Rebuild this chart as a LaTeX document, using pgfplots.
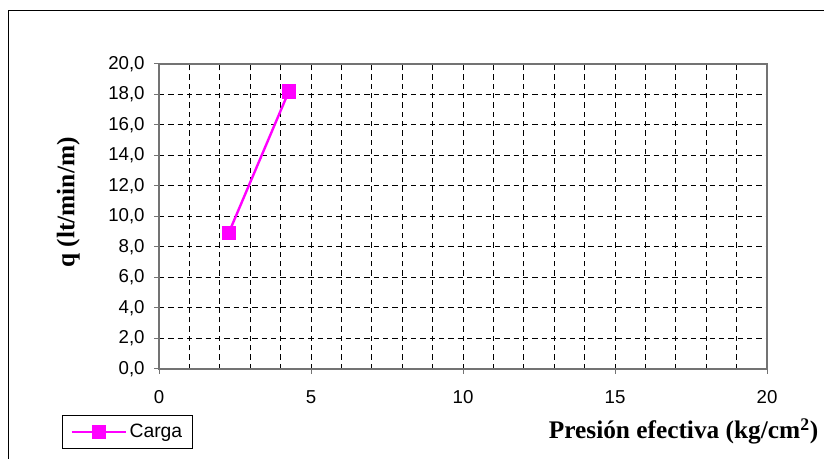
\documentclass[border=0pt]{standalone}
\usepackage{pgfplots}
\pgfplotsset{compat=1.18}
\usepackage{fontspec}
\setmainfont{Liberation Sans}
\newfontfamily\tnr{Liberation Serif}
\definecolor{mag}{RGB}{255,0,255}
\definecolor{axgray}{RGB}{115,115,115}

\begin{document}
\begin{tikzpicture}[x=0.75pt,y=0.75pt]
\path[use as bounding box] (0,0) rectangle (824,459);
\draw[line width=0.75pt,black] (8,0) -- (8,448) -- (824,448);
\begin{axis}[
  at={(119.25pt,67.5pt)}, anchor=south west, scale only axis,
  width=456pt, height=228.75pt,
  xmin=0, xmax=20, ymin=0, ymax=20,
  xtick={0,5,10,15,20},
  minor xtick={1,2,3,4,6,7,8,9,11,12,13,14,16,17,18,19},
  ytick={0,2,...,20},
  grid=both,
  major grid style={black, line width=0.75pt, dash pattern=on 4pt off 3pt},
  minor grid style={black, line width=0.75pt, dash pattern=on 4pt off 3pt},
  axis line style={axgray, line width=1.5pt},
  tick pos=left, tick align=outside,
  major tick length=3.75pt, minor tick length=0pt,
  every tick/.style={axgray, line width=0.75pt},
  /pgf/number format/assume math mode=true,
  ticklabel style={font=\fontsize{14}{17}\selectfont},
  yticklabel style={/pgf/number format/fixed, /pgf/number format/fixed zerofill, /pgf/number format/precision=1, /pgf/number format/use comma, xshift=-3.5pt},
  xticklabel style={yshift=-9pt},
  xlabel={Presión efectiva (kg/cm\textsuperscript{2})},
  xlabel style={font=\tnr\bfseries\fontsize{19}{22}\selectfont, at={(axis description cs:1.092,-0.2295)}, anchor=base east},
  ylabel={q (lt/min/m)},
  ylabel style={font=\tnr\bfseries\fontsize{19}{22}\selectfont, at={(axis description cs:-0.149,0.546)}, anchor=center},
  legend style={at={(axis description cs:-0.1595,-0.1508)}, anchor=north west, draw=black, line width=0.75pt, font=\fontsize{14.5}{17}\selectfont, inner xsep=6pt, inner ysep=4.5pt},
  legend image code/.code={\draw[mark repeat=2, mark phase=2, #1] plot coordinates {(0pt,0pt) (20.25pt,0pt) (40.5pt,0pt)};},
]
\addplot[mag, line width=1.8pt, mark=square*, mark size=5pt, mark options={solid, fill=mag, draw=mag, line width=0.5pt}] coordinates {(2.3,8.95) (4.27,18.2)};
\addlegendentry{Carga}
\end{axis}
\end{tikzpicture}
\end{document}
